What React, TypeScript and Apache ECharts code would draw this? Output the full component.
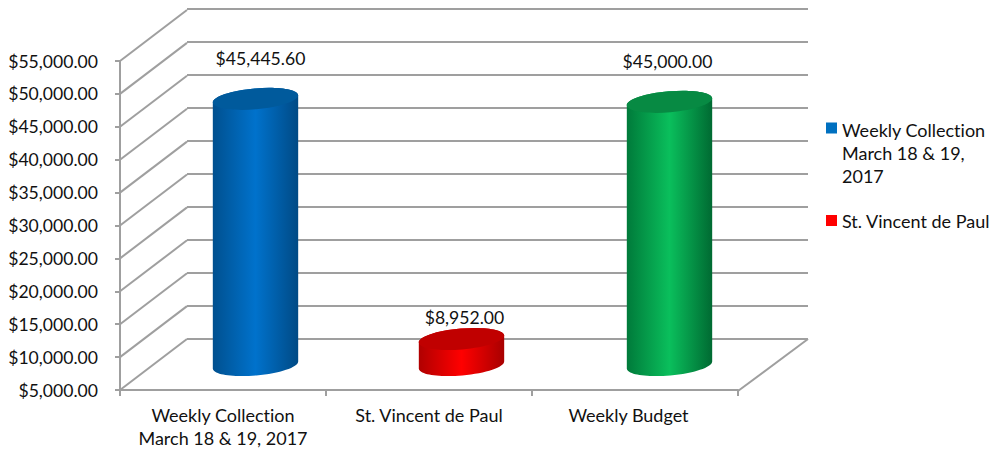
import React, { useEffect, useRef } from "react";
import * as echarts from "echarts";

const categories = ["Weekly Collection\nMarch 18 & 19, 2017", "St. Vincent de Paul", "Weekly Budget"];
const seriesNames = ["Weekly Collection March 18 & 19, 2017", "St. Vincent de Paul", "Weekly Budget"];
const legendLabels = ["Weekly Collection\nMarch 18 & 19,\n2017", "St. Vincent de Paul"];
const values = [45445.6, 8952, 45000];
const wallTicks = [5000, 10000, 15000, 20000, 25000, 30000, 35000, 40000, 45000, 50000, 55000];

const FONT = "Lato, 'Noto Sans', sans-serif";
const FS = 17.6;
const FS_WIDE = 18;
const AXIS = "#9f9f9f";
const DEPTH_X = 67;
const DEPTH_Y = 51;
const palette = [
  { edgeL: "#00508f", mid: "#0072cc", edgeR: "#004a85", top: "#005a9c", swatch: "#0070c0" },
  { edgeL: "#b00000", mid: "#ff0000", edgeR: "#a80000", top: "#c00000", swatch: "#ff0000" },
  { edgeL: "#007a3a", mid: "#0abf5c", edgeR: "#006a32", top: "#078a43", swatch: "#00b050" },
];
const barShift = [0, 0, 2];
const labelShift = [[5, -40], [3, -21], [-2, -40]];

const money = (v: number) =>
  "$" + v.toLocaleString("en-US", { minimumFractionDigits: 2, maximumFractionDigits: 2 });

// half of a tilted ellipse as two cubic segments; dir = 1 runs left→bottom→right, -1 runs right→top→left
function halfEllipse(cx: number, cy: number, a: number, b: number, rad: number, dir: number) {
  const k = 0.5523;
  const ux = Math.cos(rad), uy = -Math.sin(rad);
  const vx = Math.sin(rad), vy = Math.cos(rad);
  const P = (p: number, q: number) => `${cx + a * p * ux + b * q * vx} ${cy + a * p * uy + b * q * vy}`;
  if (dir === 1) return `C${P(-1, k)} ${P(-k, 1)} ${P(0, 1)}C${P(k, 1)} ${P(1, k)} ${P(1, 0)}`;
  return `C${P(1, -k)} ${P(k, -1)} ${P(0, -1)}C${P(-k, -1)} ${P(-1, -k)} ${P(-1, 0)}`;
}

function cylinder(i: number) {
  return (_: any, api: any) => {
    const idx = api.value(0);
    const top = api.coord([idx, api.value(1)]);
    const base = api.coord([idx, wallTicks[0]]);
    const band = api.size([1, 0])[0];
    const a = band * 0.208;
    const b = 10.5;
    const rad = (5 * Math.PI) / 180;
    const cx = top[0] + DEPTH_X / 2 - 1 + barShift[i];
    const cyT = top[1] - 25;
    const cyB = base[1] - 25;
    const dx = a * Math.cos(rad);
    const dy = a * Math.sin(rad);
    const body =
      `M${cx - dx} ${cyT + dy}L${cx - dx} ${cyB + dy}` +
      halfEllipse(cx, cyB, a, b, rad, 1) +
      `L${cx + dx} ${cyT - dy}` +
      halfEllipse(cx, cyT, a, b, rad, -1) +
      "Z";
    const lid =
      `M${cx - dx} ${cyT + dy}` +
      halfEllipse(cx, cyT, a, b, rad, 1) +
      halfEllipse(cx, cyT, a, b, rad, -1) +
      "Z";
    const c = palette[i];
    return {
      type: "group",
      children: [
        {
          type: "path",
          shape: { pathData: body },
          style: {
            fill: new echarts.graphic.LinearGradient(0, 0, 1, 0, [
              { offset: 0, color: c.edgeL },
              { offset: 0.5, color: c.mid },
              { offset: 1, color: c.edgeR },
            ]),
          },
        },
        { type: "path", shape: { pathData: lid }, style: { fill: c.top } },
        {
          type: "text",
          style: {
            text: money(api.value(1)),
            x: cx + labelShift[i][0],
            y: cyT + labelShift[i][1],
            align: "center",
            verticalAlign: "middle",
            fontFamily: FONT,
            fontSize: FS,
            fill: "#111",
          },
        },
      ],
    };
  };
}

const wallItem = (params: any, api: any) => {
  const v = api.value(0);
  const x0 = params.coordSys.x;
  const y = api.coord([0, v])[1];
  return {
    type: "line",
    shape: { x1: x0, y1: y, x2: x0 + DEPTH_X, y2: y - DEPTH_Y },
    style: { stroke: AXIS, lineWidth: 2, fill: "none" },
  };
};

const floorEdge = (params: any, api: any) => {
  const cs = params.coordSys;
  const y = api.coord([0, wallTicks[0]])[1];
  const x = cs.x + cs.width;
  return {
    type: "line",
    shape: { x1: x, y1: y + 1, x2: x + DEPTH_X + 3, y2: y - DEPTH_Y },
    style: { stroke: AXIS, lineWidth: 2, fill: "none" },
  };
};

const swatchIcon = (y0: number) =>
  `path://M0 0H0.01V0.01H0ZM10.99 65.99H11V66H10.99ZM0 ${y0}H11V${y0 + 11}H0Z`;

export default function App() {
  const ref = useRef<HTMLDivElement>(null);
  useEffect(() => {
    const chart = echarts.init(ref.current!, null, { renderer: "svg" });
    chart.setOption({
      animation: false,
      backgroundColor: "#fff",
      textStyle: { fontFamily: FONT },
      grid: [
        { left: 120, width: 618, top: 61, height: 329 },
        { left: 187, width: 621, top: 9, height: 330 },
      ],
      legend: {
        orient: "vertical",
        left: 826,
        top: 118.5,
        padding: 0,
        itemWidth: 11,
        itemHeight: 66,
        itemGap: 0.5,
        selectedMode: false,
        textStyle: { fontFamily: FONT, fontSize: FS_WIDE, color: "#111", lineHeight: 23 },
        formatter: (n: string) => legendLabels[seriesNames.indexOf(n)],
        data: [
          { name: seriesNames[0], icon: swatchIcon(2.5) },
          { name: seriesNames[1], icon: swatchIcon(27) },
        ],
      },
      xAxis: [
        {
          type: "category",
          gridIndex: 0,
          data: categories.map((c, i) =>
            i === 2 ? { value: c, textStyle: { padding: [0, 13, 0, 0] } } : c
          ),
          axisLine: { show: true, lineStyle: { color: AXIS, width: 2 } },
          axisTick: { show: true, inside: false, length: 6, alignWithLabel: false, lineStyle: { color: AXIS, width: 2 } },
          axisLabel: {
            interval: 0,
            margin: 13,
            fontFamily: FONT,
            fontSize: FS_WIDE,
            color: "#111",
            lineHeight: 23,
            verticalAlign: "top",
          },
        },
        { type: "category", gridIndex: 1, data: categories, show: false },
      ],
      yAxis: [
        {
          type: "value",
          gridIndex: 0,
          min: 5000,
          max: 55000,
          interval: 5000,
          axisLine: { show: true, lineStyle: { color: AXIS, width: 2 } },
          axisTick: { show: true, length: 5, lineStyle: { color: AXIS, width: 2 } },
          splitLine: { show: false },
          axisLabel: {
            margin: 22,
            fontFamily: FONT,
            fontSize: FS,
            color: "#111",
            padding: [5, 0, 0, 0],
            formatter: (v: number) => money(v),
          },
        },
        {
          type: "value",
          gridIndex: 1,
          min: 5000,
          max: 55000,
          interval: 5000,
          axisLine: { show: false },
          axisTick: { show: false },
          axisLabel: { show: false },
          splitLine: { show: true, lineStyle: { color: AXIS, width: 2 } },
        },
      ],
      series: [
        {
          type: "custom",
          name: "wall",
          xAxisIndex: 0,
          yAxisIndex: 0,
          clip: false,
          z: 1,
          renderItem: wallItem,
          encode: { y: 0 },
          data: wallTicks.map((v) => [v]),
        },
        {
          type: "custom",
          name: "floor",
          xAxisIndex: 0,
          yAxisIndex: 0,
          clip: false,
          z: 1,
          renderItem: floorEdge,
          encode: { y: 0 },
          data: [[wallTicks[0]]],
        },
        ...values.map((v, i) => ({
          type: "custom",
          name: seriesNames[i],
          xAxisIndex: 0,
          yAxisIndex: 0,
          clip: false,
          z: 5,
          itemStyle: { color: palette[i].swatch },
          renderItem: cylinder(i),
          encode: { x: 0, y: 1 },
          data: [[i, v]],
        })),
      ],
    });
    return () => chart.dispose();
  }, []);
  return (
    <div
      ref={ref}
      style={{ position: "absolute", left: 0, top: 0, width: 990, height: 450, fontVariantLigatures: "none" }}
    />
  );
}
